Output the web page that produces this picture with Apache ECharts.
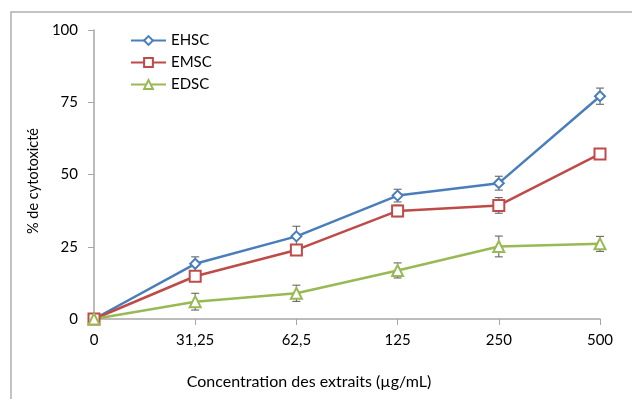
<!DOCTYPE html>
<html><head><meta charset="utf-8">
<script src="https://cdn.jsdelivr.net/npm/echarts@6/dist/echarts.min.js"></script>
<style>html,body{margin:0;padding:0;background:#fff}#c{width:632px;height:399px}</style>
</head><body><div id="c"></div>
<script>
const categories = ["0", "31,25", "62,5", "125", "250", "500"];
const seriesNames = ["EHSC", "EMSC", "EDSC"];
const ehsc = [0, 19.1, 28.6, 42.7, 47.0, 77.1];
const emsc = [0, 14.8, 23.9, 37.4, 39.3, 57.1];
const edsc = [0, 6.0, 8.9, 16.8, 25.1, 26.0];
const ehscErr = [0.5, 2.4, 3.5, 2.2, 2.4, 2.8];
const emscErr = [0.5, 1.2, 1.2, 2.0, 2.7, 1.9];
const edscErr = [0.5, 2.9, 2.8, 2.6, 3.6, 2.6];
const xTitle = 'Concentration des extraits (µg/mL)';
const yTitle = '% de cytotoxicté';
const colors = ["#4a7ebb", "#be4b48", "#98b954"];
const symbols = ["diamond", "rect", "triangle"];
const values = [ehsc, emsc, edsc];
const errs = [ehscErr, emscErr, edscErr];

const font = "Lato, 'Liberation Sans', sans-serif";
const chart = echarts.init(document.getElementById('c'));
const series = [];
values.forEach((vals, i) => {
  series.push({
    type: 'custom', z: 1, silent: true,
    data: vals.map((v, j) => [j, v - errs[i][j], v + errs[i][j]]),
    renderItem: function (params, api) {
      const lo = api.coord([api.value(0), api.value(1)]);
      const hi = api.coord([api.value(0), api.value(2)]);
      const w = 4;
      const st = { stroke: '#595959', lineWidth: 1 };
      return { type: 'group', children: [
        { type: 'line', shape: { x1: hi[0], y1: hi[1], x2: lo[0], y2: lo[1] }, style: st },
        { type: 'line', shape: { x1: hi[0] - w, y1: hi[1], x2: hi[0] + w, y2: hi[1] }, style: st },
        { type: 'line', shape: { x1: lo[0] - w, y1: lo[1], x2: lo[0] + w, y2: lo[1] }, style: st }
      ]};
    }
  });
});
values.forEach((vals, i) => {
  series.push({
    name: seriesNames[i], type: 'line', z: 3, data: vals,
    symbol: symbols[i], symbolSize: symbols[i] === 'diamond' ? 10 : 11,
    showAllSymbol: true,
    lineStyle: { color: colors[i], width: 2.5 },
    itemStyle: { color: '#fff', borderColor: colors[i], borderWidth: 2 },
    emphasis: { disabled: true }
  });
});

chart.setOption({
  animation: false,
  graphic: [
    { type: 'rect', shape: { x: 11, y: 12, width: 700, height: 500 },
      style: { fill: 'none', stroke: '#b0b0b0', lineWidth: 1.5 }, z: -10 },
    { type: 'text', x: 309, y: 382,
      style: { text: xTitle, font: '16px ' + font, fill: '#000', align: 'center', verticalAlign: 'middle' } },
    { type: 'text', x: 33, y: 181, rotation: Math.PI / 2,
      style: { text: yTitle, font: '14.5px ' + font, fill: '#000', align: 'center', verticalAlign: 'middle' } }
  ],
  grid: { left: 94, right: 32, top: 30, bottom: 80 },
  legend: {
    data: seriesNames, orient: 'vertical', left: 125, top: 28,
    itemWidth: 35, itemHeight: 11, itemGap: 7,
    textStyle: { fontFamily: font, fontSize: 15, color: '#000' }
  },
  xAxis: {
    type: 'category', data: categories, boundaryGap: false,
    axisLine: { lineStyle: { color: '#a6a6a6', width: 1.5 } },
    axisTick: { alignWithLabel: true, length: 6, lineStyle: { color: '#a6a6a6' } },
    axisLabel: { fontFamily: font, fontSize: 15, color: '#000', margin: 14 },
    splitLine: { show: false }
  },
  yAxis: {
    type: 'value', min: 0, max: 100, interval: 25,
    axisLine: { show: true, lineStyle: { color: '#a6a6a6', width: 1.5 } },
    axisTick: { show: true, length: 6, lineStyle: { color: '#a6a6a6' } },
    axisLabel: { fontFamily: font, fontSize: 15, color: '#000', margin: 16 },
    splitLine: { show: false }
  },
  series: series
});
</script></body></html>
